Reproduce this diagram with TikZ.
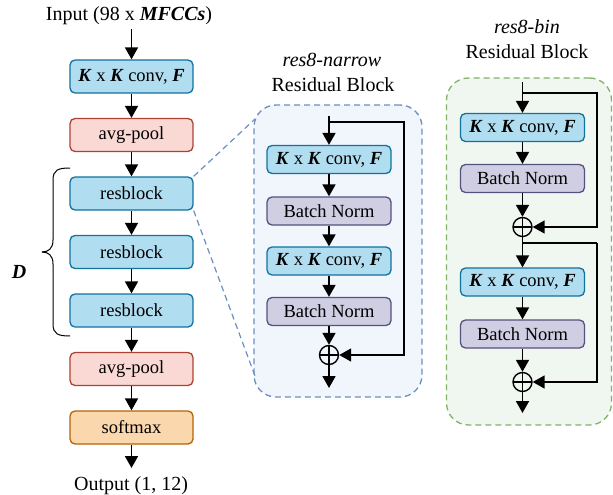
\documentclass[tikz,border=0pt]{standalone}
\usepackage{fontspec}
\setmainfont{Liberation Serif}
\usetikzlibrary{arrows.meta,calc}
\definecolor{convfill}{HTML}{B1DDF0}
\definecolor{convdraw}{HTML}{10739E}
\definecolor{poolfill}{HTML}{FAD9D5}
\definecolor{pooldraw}{HTML}{AE4132}
\definecolor{softfill}{HTML}{FAD7AC}
\definecolor{softdraw}{HTML}{B46504}
\definecolor{bnfill}{HTML}{D0CEE2}
\definecolor{bndraw}{HTML}{56517E}
\definecolor{bluedash}{HTML}{6C8EBF}
\definecolor{bluebg}{HTML}{F1F6FD}
\definecolor{greendash}{HTML}{82B366}
\definecolor{greenbg}{HTML}{F0F7F0}
\newcommand{\bi}[1]{\textbf{\textit{#1}}}
\begin{document}
\begin{tikzpicture}[x=1pt,y=-1pt,
  font=\fontsize{18.5}{21}\selectfont,
  big/.style={font=\fontsize{20}{23}\selectfont},
  box/.style={draw, line width=1.3pt, rounded corners=5pt, minimum width=123pt, minimum height=33pt, inner sep=0pt},
  convbox/.style={box, fill=convfill, draw=convdraw},
  poolbox/.style={box, fill=poolfill, draw=pooldraw},
  softbox/.style={box, fill=softfill, draw=softdraw},
  ibox/.style={box, minimum width=124pt, minimum height=28pt},
  iconv/.style={ibox, fill=convfill, draw=convdraw},
  ibn/.style={ibox, fill=bnfill, draw=bndraw},
  arr/.style={line width=1.8pt, -{Triangle[length=12pt,width=13pt]}},
  ln/.style={line width=1.8pt},
  oplus/.style={circle, draw, line width=1.4pt, minimum size=19pt, inner sep=0pt,
    path picture={\draw[line width=1.4pt] (path picture bounding box.north) -- (path picture bounding box.south)
      (path picture bounding box.west) -- (path picture bounding box.east);}},
  panel/.style={draw, dashed, dash pattern=on 6pt off 4pt, line width=1.3pt, rounded corners=22pt, inner sep=0pt},
  bracestyle/.style={line width=1pt}
]
\useasboundingbox (0,0) rectangle (613,495);

% ---- left column ----
\node[big] (in) at (129,16) {Input (98 x \bi{MFCCs})};
\node[convbox] (conv) at (131.5,76.5) {\bi{K} x \bi{K} conv, \bi{F}};
\node[poolbox] (pool1) at (131.5,135) {avg-pool};
\node[convbox] (rb1) at (131.5,193.5) {resblock};
\node[convbox] (rb2) at (131.5,252) {resblock};
\node[convbox] (rb3) at (131.5,310.5) {resblock};
\node[poolbox] (pool2) at (131.5,369) {avg-pool};
\node[softbox] (soft) at (131.5,427.5) {softmax};
\node[big] (out) at (131,486) {Output (1, 12)};
\draw[arr] (131.5,29) -- (conv);
\draw[arr] (conv) -- (pool1);
\draw[arr] (pool1) -- (rb1);
\draw[arr] (rb1) -- (rb2);
\draw[arr] (rb2) -- (rb3);
\draw[arr] (rb3) -- (pool2);
\draw[arr] (pool2) -- (soft);
\draw[arr] (soft) -- (131.5,468);

% brace
\draw[bracestyle] (70,168) .. controls (58,168) and (53,170) .. (53,180) -- (53,240) .. controls (53,249) and (48,252) .. (42,252);
\draw[bracestyle] (70,336) .. controls (58,336) and (53,334) .. (53,324) -- (53,264) .. controls (53,255) and (48,252) .. (42,252);
\node[big] (D) at (19,272) {\bi{D}};

% ---- middle panel ----
\node[panel, draw=bluedash, fill=bluebg, minimum width=168pt, minimum height=292pt] (p1) at (338,251) {};
\coordinate (p1a) at (255,119);
\coordinate (p1b) at (255,376);
\draw[bluedash, dashed, dash pattern=on 6pt off 4pt, line width=1.2pt] (rb1.north east) -- (p1a);
\draw[bluedash, dashed, dash pattern=on 6pt off 4pt, line width=1.2pt] (rb1.south east) -- (p1b);
\node[big, font=\fontsize{20}{23}\selectfont\itshape] (t1) at (332,60) {res8-narrow};
\node[big] (t1b) at (333,85) {Residual Block};

\coordinate (n0) at (329,116);
\coordinate (nj) at (329,122);
\coordinate (nr1) at (404,122);
\coordinate (nr2) at (404,355);
\node[iconv] (nc1) at (329,159.5) {\bi{K} x \bi{K} conv, \bi{F}};
\node[ibn] (nb1) at (329,211) {Batch Norm};
\node[iconv] (nc2) at (329,261) {\bi{K} x \bi{K} conv, \bi{F}};
\node[ibn] (nb2) at (329,311.5) {Batch Norm};
\node[oplus] (nop) at (329,355) {};
\coordinate (nout) at (329,388);
\draw[arr] (n0) -- (nc1);
\draw[arr] (nc1) -- (nb1);
\draw[arr] (nb1) -- (nc2);
\draw[arr] (nc2) -- (nb2);
\draw[arr] (nb2) -- (nop);
\draw[arr] (nop) -- (nout);
\draw[arr] (nj) -- (nr1) -- (nr2) -- (nop);

% ---- right panel ----
\node[panel, draw=greendash, fill=greenbg, minimum width=165pt, minimum height=347pt] (p2) at (529,251.5) {};
\node[big, font=\fontsize{20}{23}\selectfont\itshape] (t2) at (527,27) {res8-bin};
\node[big] (t2b) at (527,52) {Residual Block};

\coordinate (b0) at (522.5,82);
\coordinate (bj1) at (522.5,93);
\coordinate (br1) at (597,93);
\coordinate (br2) at (597,227);
\node[iconv] (bc1) at (522.5,127.5) {\bi{K} x \bi{K} conv, \bi{F}};
\node[ibn] (bb1) at (522.5,178.5) {Batch Norm};
\node[oplus] (bop1) at (522.5,227) {};
\coordinate (bj2) at (522.5,243);
\coordinate (br3) at (597,243);
\coordinate (br4) at (597,382);
\node[iconv] (bc2) at (522.5,282) {\bi{K} x \bi{K} conv, \bi{F}};
\node[ibn] (bb2) at (522.5,334) {Batch Norm};
\node[oplus] (bop2) at (522.5,382) {};
\coordinate (bout) at (522.5,413);
\draw[arr] (b0) -- (bc1);
\draw[arr] (bc1) -- (bb1);
\draw[arr] (bb1) -- (bop1);
\draw[arr] (bj1) -- (br1) -- (br2) -- (bop1);
\draw[arr] (bop1) -- (bc2);
\draw[ln] (bj2) -- (br3);
\draw[arr] (br3) -- (br4) -- (bop2);
\draw[arr] (bc2) -- (bb2);
\draw[arr] (bb2) -- (bop2);
\draw[arr] (bop2) -- (bout);
\end{tikzpicture}
\end{document}
